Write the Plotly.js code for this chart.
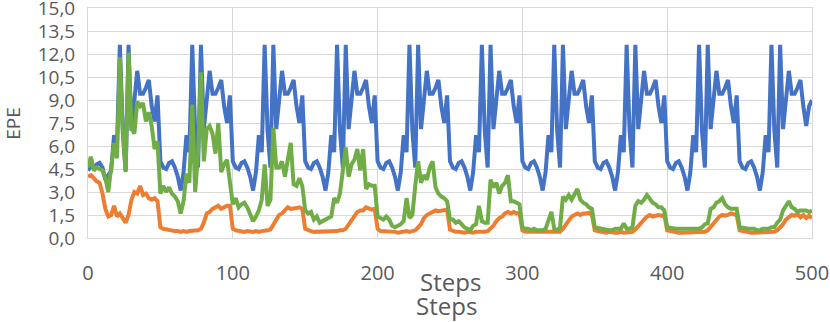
<!DOCTYPE html>
<html>
<head>
<meta charset="utf-8">
<script src="https://cdn.plot.ly/plotly-3.0.1.min.js"></script>
<style>
  html, body { margin: 0; padding: 0; background: #fff; }
  #chart { width: 830px; height: 322px; }
</style>
</head>
<body>
<div id="chart"></div>
<script>
// EPE every 2 steps, one row per 50-step block
const blueEpe = [
  4.4, 4.7, 4.6, 4.8, 4.9, 4.6, 3.8, 4.1, 4.4, 6.7, 6.0, 12.6, 7.2, 4.4, 12.6, 7.0, 9.0, 10.9, 9.4, 9.4, 9.8, 10.3, 8.6, 7.6, 9.3,
  5.0, 4.6, 4.5, 4.9, 5.0, 4.6, 4.0, 3.1, 4.3, 6.7, 5.6, 12.6, 7.0, 4.6, 12.6, 7.1, 9.0, 10.9, 9.4, 9.4, 9.8, 10.3, 8.6, 7.5, 9.3,
  5.0, 4.6, 4.5, 4.9, 5.0, 4.6, 4.0, 3.1, 4.3, 6.7, 5.6, 12.6, 7.0, 4.6, 12.6, 7.1, 9.0, 10.9, 9.4, 9.4, 9.8, 10.3, 8.6, 7.5, 9.3,
  5.0, 4.6, 4.5, 4.9, 5.0, 4.6, 4.0, 3.1, 4.3, 6.7, 5.6, 12.6, 7.0, 4.6, 12.6, 7.1, 9.0, 10.9, 9.4, 9.4, 9.8, 10.3, 8.6, 7.5, 9.3,
  5.0, 4.6, 4.5, 4.9, 5.0, 4.6, 4.0, 3.1, 4.3, 6.7, 5.6, 12.6, 7.0, 4.6, 12.6, 7.1, 9.0, 10.9, 9.4, 9.4, 9.8, 10.3, 8.6, 7.5, 9.3,
  5.0, 4.6, 4.5, 4.9, 5.0, 4.6, 4.0, 3.1, 4.3, 6.7, 5.6, 12.6, 7.0, 4.6, 12.6, 7.1, 9.0, 10.9, 9.4, 9.4, 9.8, 10.3, 8.6, 7.5, 9.3,
  5.0, 4.6, 4.5, 4.9, 5.0, 4.6, 4.0, 3.1, 4.3, 6.7, 5.6, 12.6, 7.0, 4.6, 12.6, 7.1, 9.0, 10.9, 9.4, 9.4, 9.8, 10.3, 8.6, 7.5, 9.3,
  5.0, 4.6, 4.5, 4.9, 5.0, 4.6, 4.0, 3.1, 4.3, 6.7, 5.6, 12.6, 7.0, 4.6, 12.6, 7.1, 9.0, 10.9, 9.4, 9.4, 9.8, 10.3, 8.6, 7.5, 9.3,
  5.0, 4.6, 4.5, 4.9, 5.0, 4.6, 4.0, 3.1, 4.3, 6.7, 5.6, 12.6, 7.0, 4.6, 12.6, 7.1, 9.0, 10.9, 9.4, 9.4, 9.8, 10.3, 8.6, 7.5, 9.3,
  5.0, 4.6, 4.5, 4.9, 5.0, 4.6, 4.0, 3.1, 4.3, 6.7, 5.6, 12.6, 7.0, 4.6, 12.6, 7.1, 9.0, 10.9, 9.4, 9.4, 9.8, 10.3, 8.6, 7.3, 8.6,
  9.0
];

const orangeEpe = [
  4.0, 4.1, 3.9, 3.7, 3.6, 2.9, 1.9, 1.4, 1.5, 2.1, 1.4, 1.6, 1.3, 1.0, 1.5, 2.5, 3.0, 2.9, 3.4, 2.8, 2.9, 2.6, 2.5, 2.6, 2.4,
  0.7, 0.6, 0.55, 0.5, 0.5, 0.45, 0.45, 0.4, 0.45, 0.4, 0.45, 0.45, 0.5, 0.5, 0.6, 1.0, 1.6, 1.7, 1.9, 2.0, 2.1, 1.9, 2.0, 2.1, 2.1,
  0.6, 0.5, 0.45, 0.45, 0.4, 0.45, 0.4, 0.4, 0.45, 0.4, 0.45, 0.45, 0.5, 0.55, 0.9, 1.2, 1.5, 1.6, 1.8, 2.0, 1.9, 1.9, 1.95, 2.0, 1.9,
  0.6, 0.5, 0.45, 0.4, 0.4, 0.4, 0.45, 0.4, 0.4, 0.45, 0.45, 0.45, 0.5, 0.5, 0.6, 0.9, 1.2, 1.5, 1.7, 1.8, 1.8, 2.0, 1.9, 1.85, 1.9,
  0.6, 0.45, 0.45, 0.4, 0.4, 0.4, 0.4, 0.35, 0.4, 0.4, 0.45, 0.4, 0.45, 0.5, 0.7, 0.9, 1.3, 1.5, 1.6, 1.7, 1.8, 1.75, 1.8, 1.85, 1.85,
  0.55, 0.45, 0.4, 0.4, 0.35, 0.35, 0.4, 0.35, 0.35, 0.4, 0.4, 0.35, 0.4, 0.45, 0.6, 0.8, 1.1, 1.3, 1.4, 1.6, 1.7, 1.6, 1.7, 1.6, 1.65,
  0.5, 0.4, 0.4, 0.35, 0.35, 0.35, 0.35, 0.35, 0.35, 0.35, 0.4, 0.35, 0.35, 0.4, 0.6, 0.9, 1.2, 1.4, 1.5, 1.6, 1.5, 1.6, 1.6, 1.65, 1.5,
  0.5, 0.45, 0.4, 0.4, 0.35, 0.4, 0.35, 0.35, 0.35, 0.4, 0.35, 0.35, 0.4, 0.4, 0.55, 0.8, 1.0, 1.2, 1.4, 1.5, 1.4, 1.45, 1.5, 1.45, 1.5,
  0.5, 0.45, 0.4, 0.4, 0.35, 0.35, 0.35, 0.35, 0.4, 0.35, 0.35, 0.35, 0.4, 0.4, 0.5, 0.75, 1.0, 1.2, 1.4, 1.5, 1.45, 1.5, 1.6, 1.55, 1.5,
  0.5, 0.45, 0.4, 0.4, 0.35, 0.35, 0.35, 0.35, 0.4, 0.35, 0.35, 0.35, 0.4, 0.5, 0.7, 0.9, 1.2, 1.35, 1.5, 1.45, 1.55, 1.35, 1.5, 1.3, 1.45,
  1.3
];

const greenEpe = [
  4.6, 5.3, 4.4, 4.6, 4.5, 4.4, 3.9, 3.0, 4.6, 6.2, 5.2, 11.8, 6.8, 4.3, 12.1, 7.2, 6.8, 8.9, 8.6, 8.8, 7.6, 8.2, 7.3, 5.8, 6.3,
  2.9, 3.4, 3.0, 3.3, 2.9, 2.7, 2.4, 1.6, 2.4, 4.2, 3.6, 8.7, 3.0, 5.5, 10.8, 5.0, 7.1, 7.3, 6.8, 5.5, 7.5, 4.3, 4.8, 5.1, 3.7,
  2.2, 2.6, 2.0, 2.2, 2.3, 2.0, 1.6, 1.1, 1.4, 1.8, 2.5, 4.8, 2.1, 2.5, 7.2, 4.6, 4.6, 5.0, 4.0, 5.2, 6.2, 3.5, 3.4, 3.9, 3.4,
  1.8, 1.6, 1.7, 1.2, 1.4, 1.0, 1.1, 1.2, 1.3, 1.4, 2.6, 2.3, 2.9, 4.3, 5.9, 4.0, 4.8, 5.1, 5.8, 4.4, 5.8, 3.2, 3.5, 3.4, 3.4,
  1.4, 1.3, 1.2, 1.4, 1.2, 0.8, 0.7, 0.8, 0.9, 1.1, 2.6, 1.3, 1.5, 3.4, 5.0, 3.6, 4.1, 3.8, 4.6, 5.0, 3.3, 2.9, 2.7, 2.6, 2.4,
  1.2, 1.2, 1.0, 1.1, 0.9, 0.7, 0.6, 0.5, 0.8, 0.9, 2.1, 1.1, 1.0, 1.0, 3.8, 3.3, 3.6, 2.9, 3.4, 3.6, 4.1, 2.4, 2.4, 2.3, 2.2,
  0.7, 0.6, 0.6, 0.5, 0.6, 0.5, 0.5, 0.5, 0.6, 1.1, 1.7, 0.6, 0.5, 0.7, 2.7, 2.5, 2.8, 2.5, 2.9, 3.2, 2.5, 2.3, 2.2, 2.0, 1.9,
  0.7, 0.65, 0.6, 0.6, 0.5, 0.5, 0.5, 0.6, 0.6, 0.6, 0.95, 0.6, 0.6, 0.7, 2.1, 2.4, 2.3, 2.5, 2.8, 2.5, 2.3, 2.2, 2.0, 2.0, 1.8,
  0.7, 0.65, 0.6, 0.6, 0.6, 0.6, 0.6, 0.6, 0.6, 0.6, 0.6, 0.6, 0.7, 0.9, 0.95, 1.9, 2.0, 2.3, 2.4, 2.6, 2.2, 2.0, 1.9, 1.9, 1.9,
  0.7, 0.65, 0.65, 0.6, 0.6, 0.6, 0.5, 0.5, 0.6, 0.6, 0.6, 0.7, 0.7, 1.0, 1.2, 1.8, 2.15, 2.4, 2.0, 1.9, 1.7, 1.8, 1.8, 1.8, 1.7,
  1.8
];

// step index of every sample (0, 2, 4 ... 500)
const steps = blueEpe.map((_, i) => i * 2);

const yTicks = [0, 1.5, 3, 4.5, 6, 7.5, 9, 10.5, 12, 13.5, 15];
const xTicks = [0, 100, 200, 300, 400, 500];

const txt = '#595959';
const grid = '#d9d9d9';
const fontFam = '"Open Sans", "Segoe UI", Arial, sans-serif';

function series(y, color) {
  return {
    type: 'scatter', mode: 'lines', x: steps, y: y,
    line: { color: color, width: 4 },
    hoverinfo: 'skip', showlegend: false
  };
}

const data = [
  series(blueEpe, '#4472c4'),
  series(orangeEpe, '#ed7d31'),
  series(greenEpe, '#70ad47')
];

function label(text, x, y, size, angle) {
  return {
    text: text, xref: 'paper', yref: 'paper', x: x, y: y,
    xanchor: 'center', yanchor: 'middle', showarrow: false, textangle: angle || 0,
    font: { size: size, color: txt, family: fontFam }
  };
}

const layout = {
  width: 830, height: 322,
  margin: { l: 88, r: 18, t: 8, b: 84 },
  paper_bgcolor: '#fff', plot_bgcolor: '#fff',
  separators: ',.',
  font: { family: fontFam, color: txt, size: 20 },
  xaxis: {
    range: [0, 500], tickvals: xTicks, ticks: '',
    showgrid: true, gridcolor: grid, gridwidth: 1,
    zeroline: false, showline: true, linecolor: grid, mirror: true,
    ticklabelstandoff: 17,
    tickfont: { size: 20, color: txt }
  },
  yaxis: {
    range: [0, 15], tickvals: yTicks, tickformat: '.1f', ticks: '',
    showgrid: true, gridcolor: grid, gridwidth: 1,
    zeroline: false, showline: true, linecolor: grid, mirror: true,
    ticklabelstandoff: 8, ticklabeloverflow: 'allow',
    tickfont: { size: 19, color: txt }
  },
  annotations: [
    label('EPE', -0.104, 0.5, 19, -90),
    label('Steps', 0.5, -0.187, 24),
    label('Steps', 0.495, -0.295, 24)
  ]
};

Plotly.newPlot('chart', data, layout, { displayModeBar: false, staticPlot: true });
</script>
</body>
</html>
